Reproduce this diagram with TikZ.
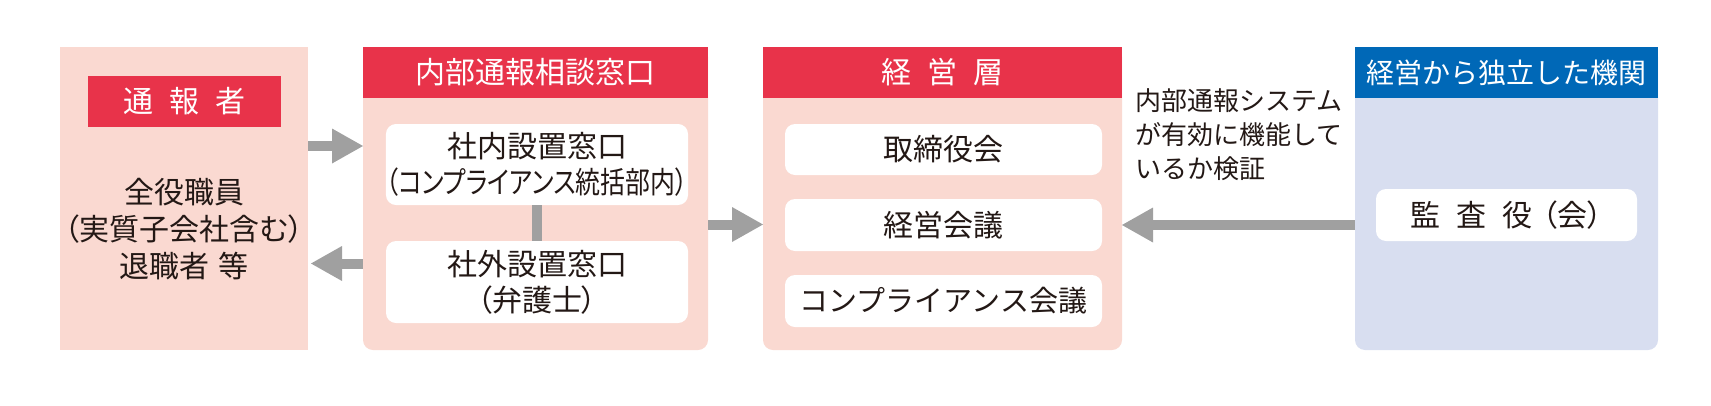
\documentclass[tikz,border=0pt]{standalone}
\usepackage{fontspec}
\setmainfont{Noto Sans CJK JP}
\newfontfamily\jpprop[RawFeature=+palt]{Noto Sans CJK JP}
\newfontfamily\jpnarrow[RawFeature=+palt,FakeStretch=0.83]{Noto Sans CJK JP}
\usetikzlibrary{arrows.meta,calc}
\definecolor{hdred}{RGB}{232,51,74}
\definecolor{hdblue}{RGB}{0,104,183}
\definecolor{pnlpink}{RGB}{250,217,209}
\definecolor{pnlblue}{RGB}{216,222,240}
\definecolor{arrgray}{RGB}{160,160,160}
\definecolor{txtdark}{RGB}{35,24,21}
\newcommand{\jgap}{\hspace{16pt}}

\begin{document}
\begin{tikzpicture}[x=1pt,y=-1pt,
  panel/.style={fill=pnlpink,draw=none,inner sep=0pt,outer sep=0pt,rounded corners=10pt},
  header/.style={fill=hdred,text=white,inner sep=0pt,outer sep=0pt,minimum height=51pt,font=\fontsize{30}{36}\selectfont},
  item/.style={fill=white,rounded corners=10pt,inner sep=0pt,outer sep=0pt,minimum width=302pt,text=txtdark,align=center,font=\fontsize{30}{36}\selectfont},
  flow/.style={draw=arrgray,line width=10pt,-{Triangle[length=31pt,width=35pt,line width=0pt]}}]
\useasboundingbox (0,0) rectangle (1711,405);

\node[panel,sharp corners,minimum width=248pt,minimum height=303pt] (tsuho) at (184,198.5) {};
\node[header,minimum width=193pt] (tsuhoh) at (184.5,101.5) {通\jgap 報\jgap 者};
\node[align=center,text=txtdark,font=\fontsize{30}{37}\selectfont] (tsuhot) at (184,229) {全役職員\\{\jpprop （実質子会社含む）}\\退職者\hspace{9pt}等};

\node[panel,minimum width=345pt,minimum height=303pt] (madoguchi) at (535.5,198.5) {};
\node[header,minimum width=345pt,anchor=north] (madoguchih) at (madoguchi.north) {内部通報相談窓口};
\node[item,minimum height=81pt] (shanai) at (537,164.5) {社内設置窓口\\{\jpnarrow （コンプライアンス統括部内）}};
\node[item,minimum height=82pt] (shagai) at (537,282) {社外設置窓口\\{\jpprop （弁護士）}};

\node[panel,minimum width=359pt,minimum height=303pt] (keiei) at (942.5,198.5) {};
\node[header,minimum width=359pt,anchor=north] (keieih) at (keiei.north) {経\jgap 営\jgap 層};
\node[item,minimum width=317pt,minimum height=51pt] (torishimari) at (943.5,149.5) {取締役会};
\node[item,minimum width=317pt,minimum height=52pt] (keieikaigi) at (943.5,225) {経営会議};
\node[item,minimum width=317pt,minimum height=52pt,font=\fontsize{29}{36}\selectfont] (compkaigi) at (943.5,301) {コンプライアンス会議};

\node[panel,fill=pnlblue,minimum width=303pt,minimum height=303pt] (kikan) at (1506.5,198.5) {};
\node[header,fill=hdblue,minimum width=303pt,anchor=north,font=\fontsize{28}{34}\selectfont] (kikanh) at (kikan.north) {経営から独立した機関};
\node[item,minimum width=261pt,minimum height=52pt] (kansa) at (1506.5,215) {監\jgap 査\jgap 役\hspace{10pt}{\jpprop （会）}};

\node[anchor=north west,align=left,inner sep=0pt,text=txtdark,font=\fontsize{26}{34}\selectfont] (kensho) at (1135,88) {内部通報システム\\が有効に機能して\\いるか検証};

\draw[draw=arrgray,line width=10pt] (shanai.south) -- (shagai.north);
\draw[flow] ($(tsuho.east)+(0,-52.5)$) -- ($(madoguchi.west)+(0,-52.5)$);
\draw[flow,shorten >=3pt] ($(madoguchi.west)+(0,65)$) -- ($(tsuho.east)+(0,65)$);
\draw[flow] ($(madoguchi.east)+(0,26)$) -- ($(keiei.west)+(0,26)$);
\draw[flow] ($(kikan.west)+(0,26.5)$) -- ($(keiei.east)+(0,26.5)$);
\end{tikzpicture}
\end{document}
